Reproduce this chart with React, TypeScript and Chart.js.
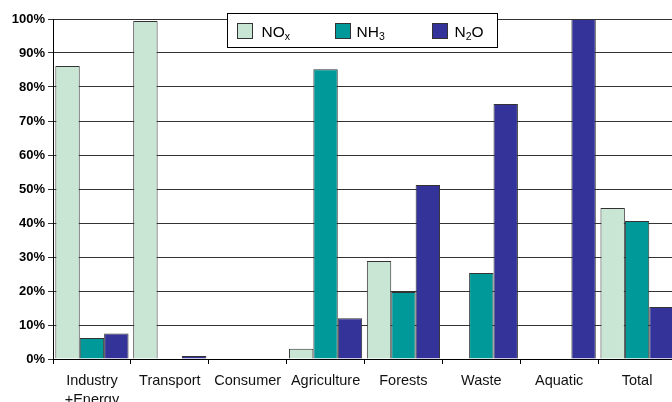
import React, { useEffect, useRef } from 'react';
import { Chart, registerables } from 'chart.js';
Chart.register(...registerables);

const categories: (string | string[])[] = [
  ['Industry', '+Energy'],
  'Transport',
  'Consumer',
  'Agriculture',
  'Forests',
  'Waste',
  'Aquatic',
  'Total',
];
const noxValues = [86.2, 99.4, 0, 3, 28.8, 0, 0, 44.4];
const nh3Values = [6.2, 0, 0, 85.2, 19.7, 25.3, 0, 40.6];
const n2oValues = [7.5, 0.9, 0, 12, 51.2, 75, 100, 15.3];
const seriesNames = ['NOx', 'NH3', 'N2O'];
const legendParts = [
  ['NO', 'x', ''],
  ['NH', '3', ''],
  ['N', '2', 'O'],
];
const seriesColors = ['#C9E6D5', '#009999', '#333399'];

const FONT = "'Liberation Sans', Arial, sans-serif";

const legendPlugin = {
  id: 'insideLegend',
  afterDraw(chart: any) {
    const ctx = chart.ctx as CanvasRenderingContext2D;
    ctx.save();
    ctx.fillStyle = '#fff';
    ctx.fillRect(227.5, 13.5, 270, 34);
    ctx.strokeStyle = '#000';
    ctx.lineWidth = 1;
    ctx.strokeRect(227.5, 13.5, 270, 34);
    const swatchX = [237, 335, 432];
    const textX = [261.5, 356.5, 454.5];
    for (let i = 0; i < 3; i++) {
      ctx.fillStyle = seriesColors[i];
      ctx.fillRect(swatchX[i] + 0.5, 23.5, 15, 15);
      ctx.strokeStyle = '#333';
      ctx.strokeRect(swatchX[i] + 0.5, 23.5, 15, 15);
      const [a, s, b] = legendParts[i];
      let x = textX[i];
      const base = 36.5;
      ctx.fillStyle = '#000';
      ctx.textBaseline = 'alphabetic';
      ctx.textAlign = 'left';
      ctx.font = `15.5px ${FONT}`;
      ctx.fillText(a, x, base);
      x += ctx.measureText(a).width;
      ctx.font = `10.5px ${FONT}`;
      ctx.fillText(s, x, base + 3);
      x += ctx.measureText(s).width;
      if (b) {
        ctx.font = `15.5px ${FONT}`;
        ctx.fillText(b, x, base);
      }
    }
    ctx.restore();
  },
};

export default function App() {
  const ref = useRef<HTMLCanvasElement>(null);
  useEffect(() => {
    if (!ref.current) return;
    const values = [noxValues, nh3Values, n2oValues];
    const chart = new Chart(ref.current, {
      type: 'bar',
      data: {
        labels: categories,
        datasets: values.map((v, i) => ({
          label: seriesNames[i],
          data: v,
          backgroundColor: seriesColors[i],
          borderColor: '#333',
          borderWidth: 1,
          categoryPercentage: 0.94,
          barPercentage: 1,
        })),
      },
      options: {
        animation: false,
        responsive: false,
        layout: { padding: { top: 19, right: 4, left: 0, bottom: 0 } },
        plugins: { legend: { display: false }, tooltip: { enabled: false } },
        scales: {
          x: {
            grid: { drawOnChartArea: false, drawTicks: true, tickLength: 5, color: '#000', offset: true },
            border: { color: '#000' },
            ticks: {
              font: { family: FONT, size: 14.5, lineHeight: 1.35 },
              color: '#111',
              padding: 7,
              maxRotation: 0,
              autoSkip: false,
            },
            afterFit: (s: any) => {
              s.height = 43;
            },
          },
          y: {
            min: 0,
            max: 100,
            ticks: {
              stepSize: 10,
              callback: (v: any) => v + '%',
              font: { family: FONT, size: 13, weight: 'bold' },
              color: '#000',
              padding: 3,
            },
            grid: { color: '#333', tickLength: 5 },
            border: { color: '#000' },
            afterFit: (s: any) => {
              s.width = 53;
            },
          },
        },
      },
      plugins: [legendPlugin],
    } as any);
    return () => chart.destroy();
  }, []);
  return (
    <div style={{ position: 'absolute', left: 0, top: 0, width: 672, height: 402, overflow: 'hidden', background: '#fff' }}>
      <canvas ref={ref} width={680} height={402} style={{ display: 'block', width: 680, height: 402 }} />
    </div>
  );
}
